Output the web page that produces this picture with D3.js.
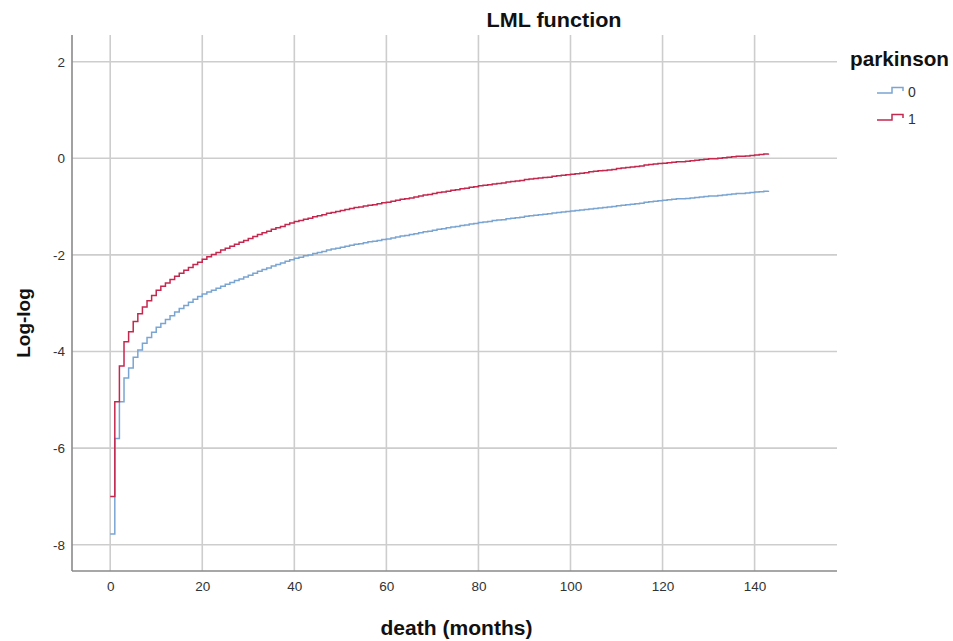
<!DOCTYPE html>
<html>
<head>
<meta charset="utf-8">
<script src="https://cdn.jsdelivr.net/npm/d3@7"></script>
<style>
  html, body { margin: 0; padding: 0; background: #fff; }
  svg { display: block; font-family: "Liberation Sans", Arial, sans-serif; }
</style>
</head>
<body>
<svg id="chart" width="953" height="641"></svg>
<script>
// ---- data ----
const chartTitle = "LML function";
const xTitle = "death (months)";
const yTitle = "Log-log";
const legendTitle = "parkinson";
const groups = ["0", "1"];
const xTicks = [0, 20, 40, 60, 80, 100, 120, 140];
const yTicks = [-8, -6, -4, -2, 0, 2];
// time (months) at which each step starts
const months = [
  0,1,2,3,4,5,6,7,8,9,10,11,12,13,14,15,16,17,18,19,
  20,21,22,23,24,25,26,27,28,29,30,31,32,33,34,35,36,37,38,39,
  40,41,42,43,44,45,46,47,48,49,50,51,52,53,54,55,56,57,58,59,
  60,61,62,63,64,65,66,67,68,69,70,71,72,73,74,75,76,77,78,79,
  80,81,82,83,84,85,86,87,88,89,90,91,92,93,94,95,96,97,98,99,
  100,101,102,103,104,105,106,107,108,109,110,111,112,113,114,115,116,117,118,119,
  120,121,122,123,124,125,126,127,128,129,130,131,132,133,134,135,136,137,138,139,
  140,141,142,143
];
// parkinson = 0
const logLog0 = [
  -7.78,-5.80,-5.04,-4.55,-4.34,-4.12,-3.97,-3.83,-3.71,-3.60,
  -3.50,-3.42,-3.34,-3.26,-3.18,-3.11,-3.05,-2.98,-2.92,-2.86,
  -2.81,-2.77,-2.73,-2.69,-2.65,-2.61,-2.57,-2.53,-2.50,-2.46,
  -2.42,-2.38,-2.34,-2.30,-2.27,-2.23,-2.20,-2.17,-2.13,-2.10,
  -2.07,-2.05,-2.02,-2.00,-1.97,-1.95,-1.93,-1.90,-1.88,-1.86,
  -1.84,-1.82,-1.80,-1.78,-1.77,-1.75,-1.73,-1.72,-1.70,-1.68,
  -1.67,-1.65,-1.63,-1.61,-1.60,-1.58,-1.56,-1.54,-1.52,-1.51,
  -1.49,-1.47,-1.46,-1.44,-1.42,-1.41,-1.39,-1.38,-1.36,-1.35,
  -1.33,-1.32,-1.31,-1.29,-1.28,-1.27,-1.25,-1.24,-1.23,-1.22,
  -1.20,-1.19,-1.18,-1.17,-1.16,-1.15,-1.13,-1.12,-1.11,-1.10,
  -1.09,-1.08,-1.07,-1.06,-1.05,-1.04,-1.03,-1.02,-1.01,-1.00,
  -0.98,-0.97,-0.96,-0.95,-0.94,-0.93,-0.91,-0.90,-0.89,-0.88,
  -0.87,-0.86,-0.85,-0.84,-0.84,-0.83,-0.82,-0.81,-0.80,-0.79,
  -0.78,-0.78,-0.77,-0.76,-0.75,-0.74,-0.73,-0.73,-0.72,-0.71,
  -0.70,-0.69,-0.68,-0.67
];
// parkinson = 1
const logLog1 = [
  -7.00,-5.04,-4.30,-3.80,-3.59,-3.38,-3.22,-3.08,-2.95,-2.84,
  -2.73,-2.65,-2.58,-2.51,-2.44,-2.38,-2.32,-2.26,-2.20,-2.15,
  -2.09,-2.04,-1.99,-1.95,-1.90,-1.86,-1.82,-1.78,-1.74,-1.70,
  -1.66,-1.62,-1.58,-1.54,-1.51,-1.47,-1.44,-1.41,-1.37,-1.34,
  -1.31,-1.29,-1.26,-1.24,-1.21,-1.19,-1.17,-1.14,-1.12,-1.10,
  -1.08,-1.06,-1.04,-1.02,-1.01,-0.99,-0.97,-0.96,-0.94,-0.92,
  -0.91,-0.89,-0.87,-0.85,-0.84,-0.82,-0.80,-0.78,-0.76,-0.75,
  -0.73,-0.71,-0.70,-0.68,-0.66,-0.65,-0.63,-0.62,-0.60,-0.59,
  -0.57,-0.56,-0.55,-0.53,-0.52,-0.51,-0.49,-0.48,-0.47,-0.46,
  -0.44,-0.43,-0.42,-0.41,-0.40,-0.39,-0.37,-0.36,-0.35,-0.34,
  -0.33,-0.32,-0.31,-0.30,-0.28,-0.27,-0.26,-0.25,-0.24,-0.23,
  -0.21,-0.20,-0.19,-0.18,-0.17,-0.16,-0.14,-0.13,-0.12,-0.11,
  -0.10,-0.09,-0.08,-0.07,-0.07,-0.06,-0.05,-0.04,-0.03,-0.02,
  -0.01,-0.01,0.00,0.01,0.02,0.03,0.04,0.04,0.05,0.06,
  0.07,0.08,0.09,0.10
];
const seriesValues = [logLog0, logLog1];
const colors = ["#7aa5d3", "#c4284f"];

// ---- layout ----
const svg = d3.select("#chart");
const plot = { left: 72, right: 837, top: 35, bottom: 571 };
const x = d3.scaleLinear().domain([-8.3, 157.9]).range([plot.left, plot.right]);
const y = d3.scaleLinear().domain([-8.545, 2.553]).range([plot.bottom, plot.top]);
const fmt = d => String(d);

// gridlines
const grid = svg.append("g");
grid.selectAll("line.v").data(xTicks).join("line")
  .attr("x1", d => x(d)).attr("x2", d => x(d))
  .attr("y1", plot.top).attr("y2", plot.bottom)
  .attr("stroke", "#cdcdcd").attr("stroke-width", 1.6);
grid.selectAll("line.h").data(yTicks).join("line")
  .attr("x1", plot.left).attr("x2", plot.right)
  .attr("y1", d => y(d)).attr("y2", d => y(d))
  .attr("stroke", "#cdcdcd").attr("stroke-width", 1.6);

// axes
const xAxis = d3.axisBottom(x).tickValues(xTicks).tickFormat(fmt).tickSize(0).tickPadding(10);
const gx = svg.append("g").attr("transform", `translate(0,${plot.bottom})`).call(xAxis);
gx.select(".domain").attr("d", `M${plot.left},0H${plot.right}`).attr("stroke", "#8a8a8a").attr("stroke-width", 1.6);
gx.selectAll("text").attr("font-size", 13.5).attr("fill", "#333").attr("font-family", "Liberation Sans, Arial, sans-serif");

const yAxis = d3.axisLeft(y).tickValues(yTicks).tickFormat(fmt).tickSize(0).tickPadding(7);
const gy = svg.append("g").attr("transform", `translate(${plot.left},0)`).call(yAxis);
gy.select(".domain").attr("d", `M0,${plot.top}V${plot.bottom}`).attr("stroke", "#8a8a8a").attr("stroke-width", 1.6);
gy.selectAll("text").attr("font-size", 13.5).attr("fill", "#333").attr("font-family", "Liberation Sans, Arial, sans-serif");

// lines
const line = d3.line().curve(d3.curveStepAfter).x(d => x(d[0])).y(d => y(d[1]));
seriesValues.forEach((vals, i) => {
  const pts = months.map((m, j) => [m, vals[j]]);
  svg.append("path").datum(pts)
    .attr("d", line)
    .attr("fill", "none")
    .attr("stroke", colors[i])
    .attr("stroke-width", 1.5);
});

// titles
svg.append("text").attr("x", 554).attr("y", 27).attr("text-anchor", "middle")
  .attr("font-weight", "bold").attr("font-size", 20).attr("fill", "#111")
  .attr("textLength", 135).attr("lengthAdjust", "spacingAndGlyphs").text(chartTitle);
svg.append("text").attr("x", 456.5).attr("y", 635).attr("text-anchor", "middle")
  .attr("font-weight", "bold").attr("font-size", 19.5).attr("fill", "#111")
  .attr("textLength", 152).attr("lengthAdjust", "spacingAndGlyphs").text(xTitle);
svg.append("text").attr("transform", "translate(30,323) rotate(-90)").attr("text-anchor", "middle")
  .attr("font-weight", "bold").attr("font-size", 19).attr("fill", "#111").text(yTitle);

// legend
svg.append("text").attr("x", 850).attr("y", 66)
  .attr("font-weight", "bold").attr("font-size", 20.5).attr("fill", "#111")
  .attr("textLength", 99).attr("lengthAdjust", "spacingAndGlyphs").text(legendTitle);
const legY = [92, 119];
groups.forEach((g, i) => {
  const cy = legY[i];
  svg.append("path")
    .attr("d", `M877,${cy + 1}H892V${cy - 4.5}H903V${cy - 1}`)
    .attr("fill", "none").attr("stroke", colors[i]).attr("stroke-width", 1.5);
  svg.append("text").attr("x", 908).attr("y", cy + 5)
    .attr("font-size", 14).attr("fill", "#333").text(g);
});
</script>
</body>
</html>
